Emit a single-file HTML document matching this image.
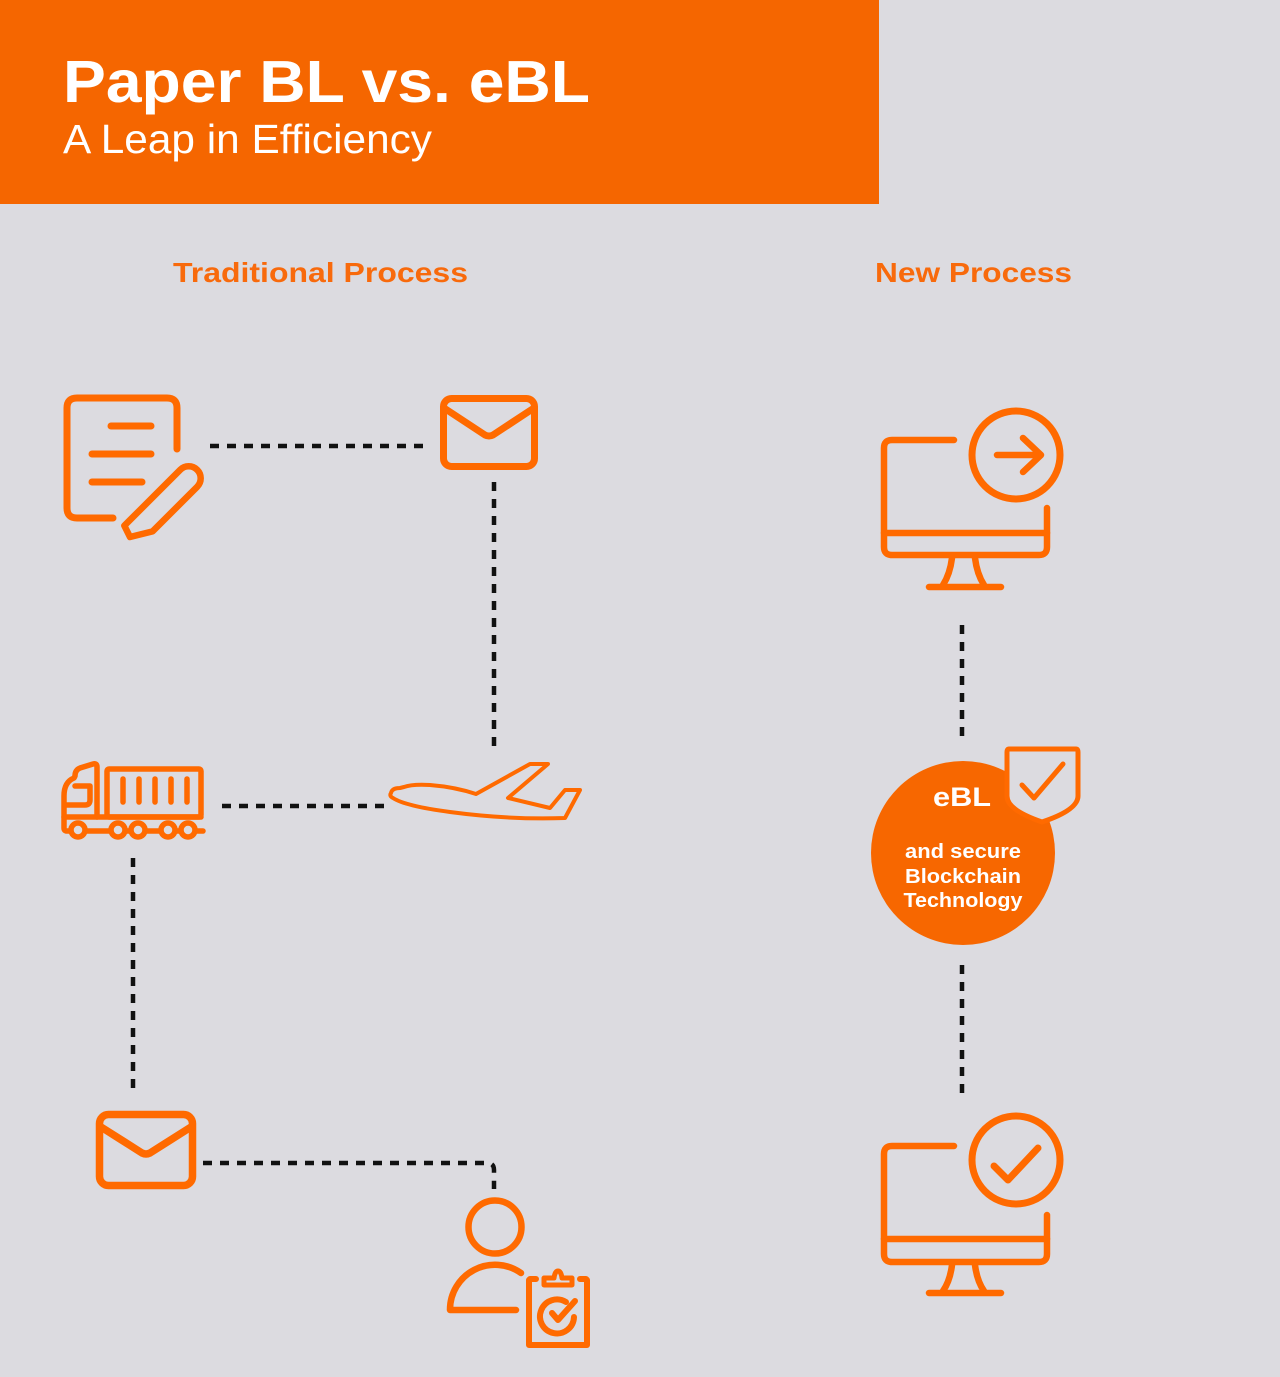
<!DOCTYPE html>
<html>
<head>
<meta charset="utf-8">
<style>
  html,body{margin:0;padding:0;background:#dcdbe0;}
  svg{display:block;}
  text{font-family:"Liberation Sans",Arial,sans-serif;}
</style>
</head>
<body>
<svg width="1280" height="1377" viewBox="0 0 1280 1377" xmlns="http://www.w3.org/2000/svg">
  <rect x="0" y="0" width="1280" height="1377" fill="#dcdbe0"/>
  <!-- Header -->
  <rect x="0" y="0" width="879" height="204" fill="#f56600"/>
  <text x="63" y="102" font-size="59" font-weight="bold" fill="#fff" textLength="527" lengthAdjust="spacingAndGlyphs">Paper BL vs. eBL</text>
  <text x="63" y="153" font-size="41" fill="#fff" textLength="369" lengthAdjust="spacingAndGlyphs">A Leap in Efficiency</text>

  <!-- Section headings -->
  <text x="173" y="282" font-size="28" font-weight="bold" fill="#f86a0c" textLength="295" lengthAdjust="spacingAndGlyphs">Traditional Process</text>
  <text x="875" y="282" font-size="28" font-weight="bold" fill="#f86a0c" textLength="197" lengthAdjust="spacingAndGlyphs">New Process</text>

  <!-- Dashed connectors -->
  <g stroke="#111" stroke-width="4.5" fill="none" stroke-dasharray="9 8">
    <line x1="210" y1="446" x2="427" y2="446"/>
    <line x1="494" y1="482" x2="494" y2="752"/>
    <line x1="222" y1="806" x2="390" y2="806"/>
    <line x1="133" y1="858" x2="133" y2="1093"/>
    <path d="M203 1163 L487 1163 Q494 1163 494 1170 L494 1189"/>
    <line x1="962" y1="625" x2="962" y2="743"/>
    <line x1="962" y1="965" x2="962" y2="1100"/>
  </g>

  <g stroke="#ff6a00" fill="none" stroke-linecap="round" stroke-linejoin="round">
    <!-- Document with pencil -->
    <path d="M113 518 L77 518 Q67 518 67 508 L67 408 Q67 398 77 398 L167 398 Q177 398 177 408 L177 449" stroke-width="7"/>
    <line x1="111" y1="426" x2="151" y2="426" stroke-width="7"/>
    <line x1="92" y1="454" x2="151" y2="454" stroke-width="7"/>
    <line x1="92" y1="482" x2="142" y2="482" stroke-width="7"/>
    <g transform="translate(130 537) rotate(-45)">
      <path d="M0 0 L4 -12 L83 -12 A12 12 0 0 1 83 12 L20 12 Z" stroke-width="6.5"/>
    </g>

    <!-- Envelope 1 -->
    <rect x="443.5" y="398.5" width="91" height="68" rx="8" stroke-width="7"/>
    <path d="M444 408 L485 435 Q489 437 493 435 L534 408" stroke-width="7"/>

    <!-- Truck -->
    <g stroke-width="5.5">
      <rect x="107" y="769" width="94" height="48" rx="2"/>
      <line x1="123" y1="779" x2="123" y2="802"/>
      <line x1="139" y1="779" x2="139" y2="802"/>
      <line x1="155" y1="779" x2="155" y2="802"/>
      <line x1="171" y1="779" x2="171" y2="802"/>
      <line x1="187" y1="779" x2="187" y2="802"/>
      <path d="M97 817 L97 767 Q97 763 93 764 L80 768 Q75 770 75 776 L74 778 Q64 782 64 796 L64 828 Q64 831 67 831 L203 831"/>
      <path d="M65 805 L85 805 Q90 805 90 800 L90 786 L75 786"/>
      <line x1="64" y1="817" x2="201" y2="817"/>
      <g fill="#dcdbe0">
        <circle cx="78" cy="830" r="7"/>
        <circle cx="118" cy="830" r="7"/>
        <circle cx="138" cy="830" r="7"/>
        <circle cx="168" cy="830" r="7"/>
        <circle cx="188" cy="830" r="7"/>
      </g>
    </g>

    <!-- Plane -->
    <path d="M391 793 Q392 788 400 788 L404 787 Q412 784 430 785 Q455 787 476 794 L530 764 L548 764 L508 798 L550 808 L565 790 L580 790 L565 818 Q510 820 450 812 Q405 806 393 798 Q389 796 391 793 Z" stroke-width="4"/>

    <!-- Envelope 2 -->
    <rect x="99.5" y="1114.5" width="93" height="71" rx="9" stroke-width="7.5"/>
    <path d="M101 1127 L142 1153 Q146 1155 150 1153 L191 1127" stroke-width="7.5"/>

    <!-- Person with clipboard -->
    <circle cx="495" cy="1227" r="26.5" stroke-width="6.5"/>
    <path d="M516 1310 L450 1310 A45 45 0 0 1 521 1273" stroke-width="6.5"/>
    <path d="M536 1279 L530 1279 L529 1280 L529 1345 L587 1345 L587 1280 L586 1279 L580 1279" stroke-width="6"/>
    <path d="M544 1285 L544 1278 L554 1278 Q555 1271 558 1271 Q561 1271 562 1278 L572 1278 L572 1285 Z" stroke-width="5"/>
    <path d="M566 1302 A17 17 0 1 0 574 1317" stroke-width="6"/>
    <path d="M552 1313 L558 1320 L575 1301" stroke-width="6"/>

    <!-- Monitor 1 -->
    <path d="M954 440 L892 440 Q884 440 884 448 L884 547 Q884 555 892 555 L1039 555 Q1047 555 1047 547 L1047 508" stroke-width="6.5"/>
    <line x1="884" y1="533" x2="1047" y2="533" stroke-width="6.5"/>
    <path d="M952 558 Q950 574 943 585 M975 558 Q977 574 984 585" stroke-width="6.5"/>
    <line x1="929" y1="587" x2="1001" y2="587" stroke-width="6.5"/>
    <circle cx="1016" cy="455" r="44" stroke-width="7"/>
    <path d="M997 455 L1041 455 M1023 438 L1041 455 L1023 472" stroke-width="6.5"/>

    <!-- Monitor 2 -->
    <path d="M954 1146 L892 1146 Q884 1146 884 1154 L884 1254 Q884 1262 892 1262 L1039 1262 Q1047 1262 1047 1254 L1047 1215" stroke-width="6.5"/>
    <line x1="884" y1="1239" x2="1047" y2="1239" stroke-width="6.5"/>
    <path d="M952 1265 Q950 1281 943 1291 M975 1265 Q977 1281 984 1291" stroke-width="6.5"/>
    <line x1="929" y1="1293" x2="1001" y2="1293" stroke-width="6.5"/>
    <circle cx="1016" cy="1160" r="44" stroke-width="7"/>
    <path d="M994 1166 L1008 1180 L1038 1148" stroke-width="7"/>
  </g>

  <!-- eBL circle -->
  <circle cx="963" cy="853" r="92" fill="#f76700"/>
  <path d="M1009 749 L1076 749 Q1078 749 1078 752 L1078 796 Q1078 810 1042 822 Q1007 810 1007 796 L1007 752 Q1007 749 1009 749 Z" fill="#dcdbe0" stroke="#ff6a00" stroke-width="5" stroke-linejoin="round"/>
  <path d="M1022 785 L1034 798 L1063 764" fill="none" stroke="#ff6a00" stroke-width="5" stroke-linecap="round" stroke-linejoin="round"/>
  <g fill="#fff" font-weight="bold" text-anchor="middle">
    <text x="962" y="806" font-size="27" textLength="58" lengthAdjust="spacingAndGlyphs">eBL</text>
    <text x="963" y="858" font-size="20" textLength="116" lengthAdjust="spacingAndGlyphs">and secure</text>
    <text x="963" y="883" font-size="20" textLength="116" lengthAdjust="spacingAndGlyphs">Blockchain</text>
    <text x="963" y="907" font-size="20" textLength="119" lengthAdjust="spacingAndGlyphs">Technology</text>
  </g>
</svg>
</body>
</html>
